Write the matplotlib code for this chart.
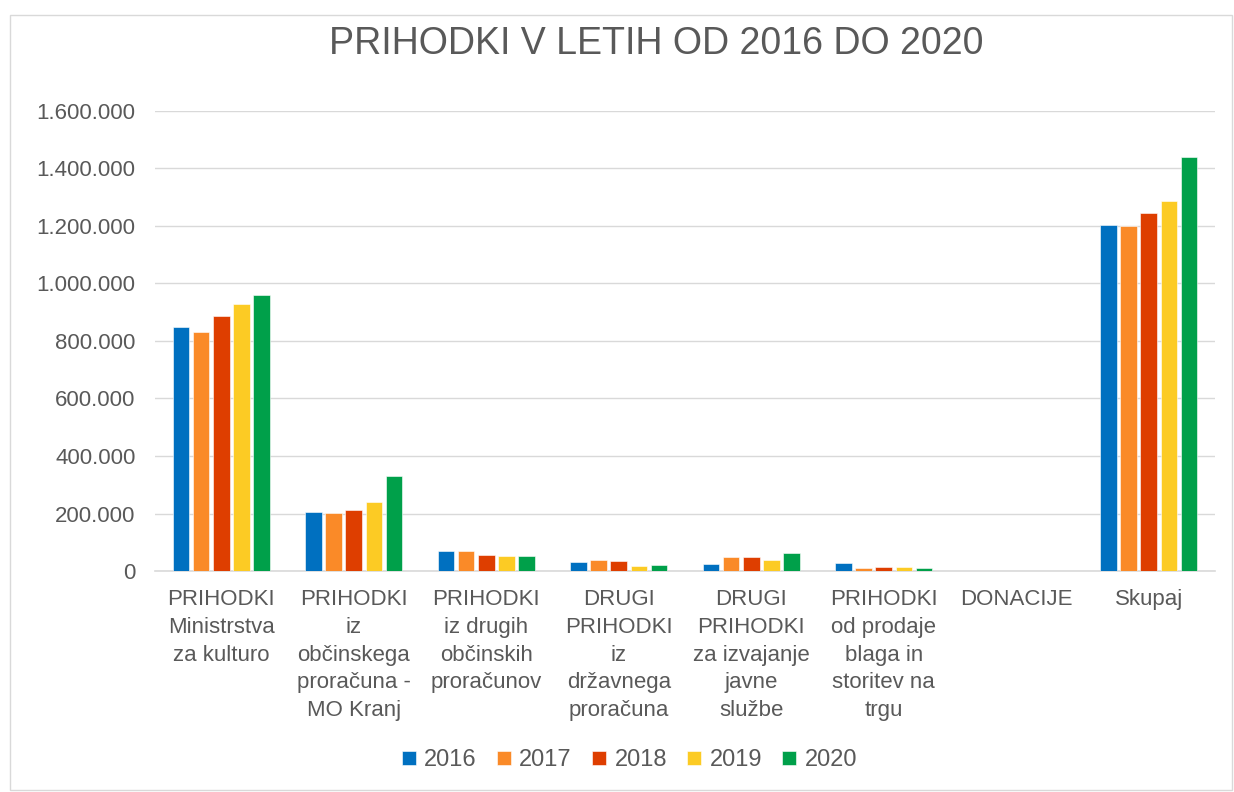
import matplotlib.pyplot as plt
import numpy as np
from matplotlib.ticker import FuncFormatter
from matplotlib.patches import Rectangle

categories = ["PRIHODKI\nMinistrstva\nza kulturo",
              "PRIHODKI\niz\nobčinskega\nproračuna -\nMO Kranj",
              "PRIHODKI\niz drugih\nobčinskih\nproračunov",
              "DRUGI\nPRIHODKI\niz\ndržavnega\nproračuna",
              "DRUGI\nPRIHODKI\nza izvajanje\njavne\nslužbe",
              "PRIHODKI\nod prodaje\nblaga in\nstoritev na\ntrgu",
              "DONACIJE",
              "Skupaj"]
years = ["2016", "2017", "2018", "2019", "2020"]

v2016 = [848000, 206000, 68000, 30000, 24000, 28000, 0, 1202000]
v2017 = [831000, 203000, 70000, 37000, 50000, 12000, 0, 1201000]
v2018 = [886000, 211000, 55000, 34000, 49000, 14000, 0, 1244000]
v2019 = [927000, 239000, 52000, 18000, 39000, 13000, 0, 1287000]
v2020 = [960000, 330000, 54000, 21000, 63000, 10000, 0, 1439000]

series = [v2016, v2017, v2018, v2019, v2020]
colors = ['#0070C0', '#FA8A28', '#DE3E00', '#FCCB24', '#00A04A']
txt = '#595959'

plt.rcParams['font.family'] = ['Liberation Sans', 'DejaVu Sans']

fig = plt.figure(figsize=(12.34, 7.92), dpi=100)
fig.patches.append(Rectangle((0.008, 0.003), 0.99, 0.978, transform=fig.transFigure,
                             fill=False, edgecolor='#d9d9d9', linewidth=1))
ax = fig.add_axes([0.1256, 0.279, 0.859, 0.581])

index = np.arange(len(categories))
pitch = 0.152
width = 0.125
for i, (vals, yr) in enumerate(zip(series, years)):
    ax.bar(index + (i - 2) * pitch, vals, width, color=colors[i], label=yr,
           edgecolor='white', linewidth=0.4, zorder=3)

ax.set_xlim(-0.5, len(categories) - 0.5)
ax.set_ylim(0, 1600000)
ax.set_yticks(np.arange(0, 1600001, 200000))
ax.yaxis.set_major_formatter(FuncFormatter(lambda v, p: f"{int(v):,}".replace(",", ".")))
ax.grid(axis='y', color='#d9d9d9', linewidth=1, zorder=0)
for s in ['top', 'right', 'left']:
    ax.spines[s].set_visible(False)
ax.spines['bottom'].set_color('#d9d9d9')
ax.spines['bottom'].set_linewidth(1.2)
ax.tick_params(axis='both', length=0, labelsize=16, colors=txt)
ax.tick_params(axis='y', pad=14)
ax.set_xticks(index)
ax.set_xticklabels(categories, linespacing=1.42, va='top')
ax.tick_params(axis='x', pad=13)

fig.text(0.532, 0.945, "PRIHODKI V LETIH OD 2016 DO 2020", ha='center', va='center',
         fontsize=27, color=txt)

fig.legend(loc='center', bbox_to_anchor=(0.51, 0.04), ncol=5, frameon=False,
           fontsize=17, labelcolor=txt, handlelength=0.6, handleheight=0.6,
           handletextpad=0.35, columnspacing=0.85)

plt.savefig('out.png', dpi=100)
